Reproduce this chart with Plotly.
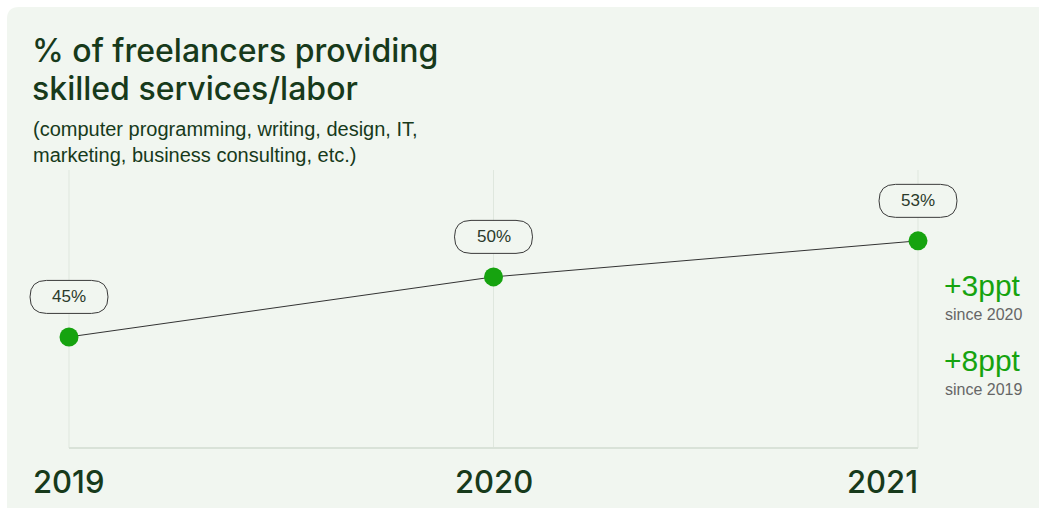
import plotly.graph_objects as go

years = [2019, 2020, 2021]
values = [45, 50, 53]
value_labels = ["45%", "50%", "53%"]
year_labels = ["2019", "2020", "2021"]
change_values = ["+3ppt", "+8ppt"]
change_notes = ["since 2020", "since 2019"]
title_lines = ["% of freelancers providing", "skilled services/labor"]
subtitle_lines = ["(computer programming, writing, design, IT,", "marketing, business consulting, etc.)"]

W, H = 1039, 508
ML, MR, MT, MB = 69, 121, 170, 60
PW, PH = W - ML - MR, H - MT - MB
XR = [2019, 2021]
YR = [35.75, 58.9]

PANEL = "#f1f6f0"
DARK = "#173a1b"
GREEN = "#16a30f"
FONT = "Liberation Sans"
HFONT = "Inter"


def px(x):
    return (x - ML) / PW


def py(y):
    return (H - MB - y) / PH


def xd(v):
    return (v - XR[0]) / (XR[1] - XR[0])


def yd(v):
    return (v - YR[0]) / (YR[1] - YR[0])


fig = go.Figure()

r = 12
x0, y0, x1, y1 = 7, 7, W + 5, H + 5
path = (f"M {px(x0)} {py(y0 + r)} Q {px(x0)} {py(y0)} {px(x0 + r)} {py(y0)} "
        f"L {px(x1)} {py(y0)} L {px(x1)} {py(y1)} L {px(x0)} {py(y1)} Z")
shapes = [dict(type="path", xref="paper", yref="paper", path=path,
               fillcolor=PANEL, line=dict(width=0), layer="below")]

for yr in years:
    shapes.append(dict(type="line", xref="paper", yref="paper", x0=xd(yr), x1=xd(yr), y0=0, y1=1,
                       line=dict(color="#dfe7de", width=1), layer="below"))
shapes.append(dict(type="line", xref="paper", yref="paper", x0=0, x1=1, y0=0, y1=0,
                   line=dict(color="#d9e2d8", width=2), layer="below"))

fig.add_trace(go.Scatter(
    x=years, y=values, mode="lines+markers",
    line=dict(color="#333333", width=1),
    marker=dict(color=GREEN, size=19),
    hoverinfo="skip", showlegend=False, cliponaxis=False,
))

bw, bh, off = 78, 33, 40
rr = bh / 2
for yr, v in zip(years, values):
    left, right = -bw / 2, bw / 2
    top, bot = off + bh / 2, off - bh / 2
    p = (f"M {left + rr} {bot} L {right - rr} {bot} "
         f"Q {right} {bot} {right} {bot + rr} Q {right} {top} {right - rr} {top} "
         f"L {left + rr} {top} Q {left} {top} {left} {top - rr} Q {left} {bot} {left + rr} {bot} Z")
    shapes.append(dict(type="path", xref="paper", yref="paper", xsizemode="pixel", ysizemode="pixel",
                       xanchor=xd(yr), yanchor=yd(v), path=p, fillcolor=PANEL,
                       line=dict(color="#3a3a3a", width=1), layer="above"))

annotations = []
for yr, v, lab in zip(years, values, value_labels):
    annotations.append(dict(x=yr, y=v, xref="x", yref="y", text=lab, showarrow=False,
                            yshift=off, font=dict(family=FONT, size=17, color="#2b3a2b")))

for i, t in enumerate(title_lines):
    annotations.append(dict(x=px(30), y=py(50 + i * 38), xref="paper", yref="paper", text=t,
                            showarrow=False, xanchor="left", yanchor="middle",
                            font=dict(family=HFONT, size=32, color=DARK, weight=500)))
for i, t in enumerate(subtitle_lines):
    annotations.append(dict(x=px(31), y=py(129 + i * 26), xref="paper", yref="paper", text=t,
                            showarrow=False, xanchor="left", yanchor="middle",
                            font=dict(family=FONT, size=20, color=DARK)))

anchors = ["left", "center", "right"]
xs = [px(31), None, px(920)]
for i, (yr, lab) in enumerate(zip(years, year_labels)):
    if i == 1:
        annotations.append(dict(x=yr, y=py(481), xref="x", yref="paper", text=lab, showarrow=False,
                                xanchor="center", yanchor="middle",
                                font=dict(family=HFONT, size=31, color=DARK, weight=500)))
    else:
        annotations.append(dict(x=xs[i], y=py(481), xref="paper", yref="paper", text=lab,
                                showarrow=False, xanchor=anchors[i], yanchor="middle",
                                font=dict(family=HFONT, size=31, color=DARK, weight=500)))

for i, (cv, cn) in enumerate(zip(change_values, change_notes)):
    annotations.append(dict(x=px(942), y=py(285 + i * 75), xref="paper", yref="paper", text=cv,
                            showarrow=False, xanchor="left", yanchor="middle",
                            font=dict(family=FONT, size=30, color=GREEN)))
    annotations.append(dict(x=px(943), y=py(314 + i * 75), xref="paper", yref="paper", text=cn,
                            showarrow=False, xanchor="left", yanchor="middle",
                            font=dict(family=FONT, size=16, color="#666666")))

fig.update_layout(
    width=W, height=H,
    margin=dict(l=ML, r=MR, t=MT, b=MB, pad=0),
    paper_bgcolor="white", plot_bgcolor="rgba(0,0,0,0)",
    shapes=shapes, annotations=annotations,
    xaxis=dict(range=XR, showgrid=False, showticklabels=False, zeroline=False,
               showline=False, fixedrange=True),
    yaxis=dict(range=YR, showgrid=False, showticklabels=False, zeroline=False,
               showline=False, fixedrange=True),
)

fig.write_html("out.html")
